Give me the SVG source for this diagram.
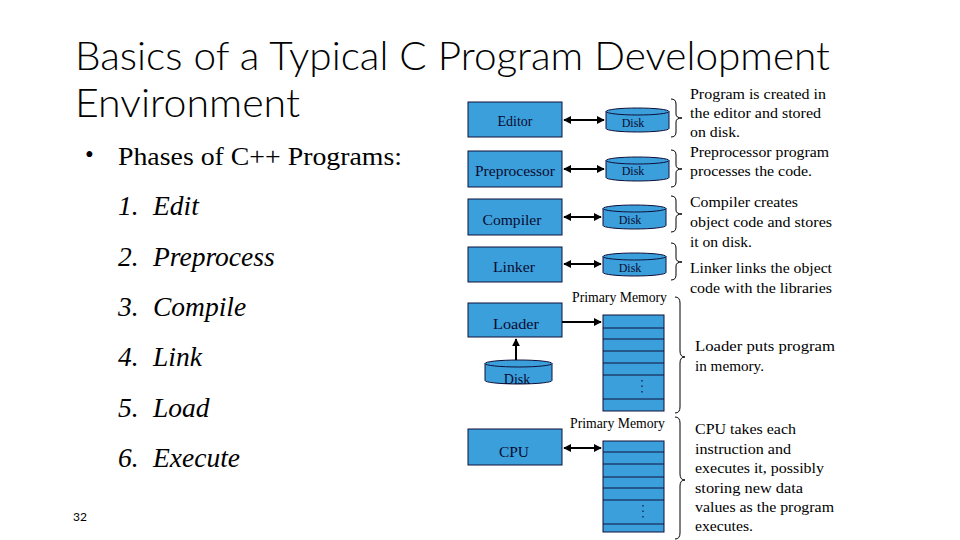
<svg xmlns="http://www.w3.org/2000/svg" width="960" height="540" viewBox="0 0 960 540">
<defs>
<style>
.title{font-family:Lato,"Open Sans","Liberation Sans",sans-serif;font-size:40px;font-weight:300;fill:#000;}
.bul{font-family:"Liberation Serif",serif;font-size:25px;fill:#000;}
.item{font-family:"Liberation Serif",serif;font-size:27.5px;font-style:italic;fill:#000;}
.box{fill:#3A9FDB;stroke:#10103a;stroke-width:1;}
.lbl{font-family:"Liberation Serif",serif;font-size:14px;fill:#0a0a30;text-anchor:middle;}
.dlbl{font-family:"Liberation Serif",serif;font-size:12px;fill:#0a0a30;text-anchor:middle;}
.note{font-family:"Liberation Serif",serif;font-size:14px;fill:#000;}
.pm{font-family:"Liberation Serif",serif;font-size:14px;fill:#000;}
.arr{stroke:#000;stroke-width:2;fill:none;}
.brace{stroke:#000;stroke-width:1;fill:none;}
.mline{stroke:#10103a;stroke-width:1;}
.dots{stroke:#10103a;stroke-width:1.2;stroke-dasharray:1.5 4;}
</style>
<marker id="ah" viewBox="0 0 10 10" refX="9" refY="5" markerWidth="4" markerHeight="4" orient="auto-start-reverse" markerUnits="strokeWidth">
<path d="M0,0 L10,5 L0,10 z" fill="#000"/>
</marker>
</defs>
<rect width="960" height="540" fill="#fff"/>

<g id="title">
<text class="title" x="75" y="70" textLength="755" lengthAdjust="spacingAndGlyphs">Basics of a Typical C Program Development</text>
<text class="title" x="75" y="117" textLength="225" lengthAdjust="spacingAndGlyphs">Environment</text>
</g>

<g id="phases">
<text class="bul" x="85" y="163" font-size="18">•</text>
<text class="bul" x="118" y="165" textLength="284" lengthAdjust="spacingAndGlyphs">Phases of C++ Programs:</text>
<text class="item" x="118" y="215">1.</text><text class="item" x="153" y="215">Edit</text>
<text class="item" x="118" y="266">2.</text><text class="item" x="153" y="266">Preprocess</text>
<text class="item" x="118" y="316">3.</text><text class="item" x="153" y="316">Compile</text>
<text class="item" x="118" y="366">4.</text><text class="item" x="153" y="366">Link</text>
<text class="item" x="118" y="417">5.</text><text class="item" x="153" y="417">Load</text>
<text class="item" x="118" y="467">6.</text><text class="item" x="153" y="467">Execute</text>
</g>

<g id="pagenum"><text x="73" y="521" font-family="Lato,'Liberation Sans',sans-serif" font-size="12" fill="#000">32</text></g>

<g id="editor"><rect class="box" x="468" y="102" width="94" height="35"/><text class="lbl" x="515" y="126">Editor</text></g>
<g id="preprocessor"><rect class="box" x="468" y="151" width="94" height="36"/><text class="lbl" x="515" y="176" textLength="80" lengthAdjust="spacingAndGlyphs">Preprocessor</text></g>
<g id="compiler"><rect class="box" x="468" y="199" width="94" height="36"/><text class="lbl" x="512" y="225" textLength="59" lengthAdjust="spacingAndGlyphs">Compiler</text></g>
<g id="linker"><rect class="box" x="468" y="247" width="94" height="35"/><text class="lbl" x="514" y="272" textLength="42" lengthAdjust="spacingAndGlyphs">Linker</text></g>
<g id="loader"><rect class="box" x="468" y="303" width="94" height="34"/><text class="lbl" x="516" y="329" textLength="46" lengthAdjust="spacingAndGlyphs">Loader</text></g>
<g id="cpu"><rect class="box" x="468" y="429" width="94" height="36"/><text class="lbl" x="514" y="457" textLength="30" lengthAdjust="spacingAndGlyphs">CPU</text></g>

<g id="disk1"><path class="box" d="M606,111.5 V128.5 A31.5,3.5 0 0 0 669,128.5 V111.5"/><ellipse class="box" cx="637.5" cy="111.5" rx="31.5" ry="3.5"/><text class="dlbl" x="633" y="127">Disk</text></g>
<g id="disk2"><path class="box" d="M606,160.5 V177.5 A31.5,3.5 0 0 0 669,177.5 V160.5"/><ellipse class="box" cx="637.5" cy="160.5" rx="31.5" ry="3.5"/><text class="dlbl" x="633" y="175">Disk</text></g>
<g id="disk3"><path class="box" d="M603,208.5 V225.5 A31.5,3.5 0 0 0 666,225.5 V208.5"/><ellipse class="box" cx="634.5" cy="208.5" rx="31.5" ry="3.5"/><text class="dlbl" x="630" y="224">Disk</text></g>
<g id="disk4"><path class="box" d="M603,256.5 V272.5 A31.5,3.5 0 0 0 666,272.5 V256.5"/><ellipse class="box" cx="634.5" cy="256.5" rx="31.5" ry="3.5"/><text class="dlbl" x="630" y="272">Disk</text></g>
<g id="disk5"><path class="box" d="M485,363.5 V380.5 A33.5,3.5 0 0 0 552,380.5 V363.5"/><ellipse class="box" cx="518.5" cy="363.5" rx="33.5" ry="3.5"/><text class="lbl" x="517" y="384" font-size="15">Disk</text></g>

<g id="memory1">
<rect class="box" x="603" y="315" width="61" height="96"/>
<line class="mline" x1="603" y1="328" x2="664" y2="328"/>
<line class="mline" x1="603" y1="339" x2="664" y2="339"/>
<line class="mline" x1="603" y1="351" x2="664" y2="351"/>
<line class="mline" x1="603" y1="363" x2="664" y2="363"/>
<line class="mline" x1="603" y1="375" x2="664" y2="375"/>
<line class="mline" x1="603" y1="399" x2="664" y2="399"/>
<line class="dots" x1="642" y1="380" x2="642" y2="396"/>
<text class="pm" x="572" y="302" textLength="95" lengthAdjust="spacingAndGlyphs">Primary Memory</text>
</g>
<g id="memory2">
<rect class="box" x="603" y="441" width="61" height="91"/>
<line class="mline" x1="603" y1="452" x2="664" y2="452"/>
<line class="mline" x1="603" y1="464" x2="664" y2="464"/>
<line class="mline" x1="603" y1="477" x2="664" y2="477"/>
<line class="mline" x1="603" y1="488" x2="664" y2="488"/>
<line class="mline" x1="603" y1="500" x2="664" y2="500"/>
<line class="mline" x1="603" y1="524" x2="664" y2="524"/>
<line class="dots" x1="643" y1="505" x2="643" y2="521"/>
<text class="pm" x="570" y="428" textLength="95" lengthAdjust="spacingAndGlyphs">Primary Memory</text>
</g>

<g id="connectors">
<line class="arr" x1="564" y1="120" x2="604" y2="120" marker-start="url(#ah)" marker-end="url(#ah)"/>
<line class="arr" x1="564" y1="169" x2="604" y2="169" marker-start="url(#ah)" marker-end="url(#ah)"/>
<line class="arr" x1="564" y1="217" x2="601" y2="217" marker-start="url(#ah)" marker-end="url(#ah)"/>
<line class="arr" x1="564" y1="264" x2="601" y2="264" marker-start="url(#ah)" marker-end="url(#ah)"/>
<line class="arr" x1="562" y1="322" x2="601" y2="322" marker-end="url(#ah)"/>
<line class="arr" x1="516" y1="360" x2="516" y2="339" marker-end="url(#ah)"/>
<line class="arr" x1="564" y1="448" x2="601" y2="448" marker-start="url(#ah)" marker-end="url(#ah)"/>
</g>

<g id="braces">
<path class="brace" d="M671,99 Q676,99 676,104 V114 Q676,118 682,118 Q676,118 676,122 V132 Q676,137 671,137"/>
<path class="brace" d="M671,150 Q676,150 676,155 V165 Q676,169 682,169 Q676,169 676,173 V182 Q676,187 671,187"/>
<path class="brace" d="M671,196 Q676,196 676,201 V210 Q676,214 682,214 Q676,214 676,218 V227 Q676,232 671,232"/>
<path class="brace" d="M671,243 Q676,243 676,248 V258 Q676,262 682,262 Q676,262 676,266 V275 Q676,280 671,280"/>
<path class="brace" d="M675,297 Q680,297 680,303 V351 Q680,357 685,357 Q680,357 680,363 V407 Q680,413 675,413"/>
<path class="brace" d="M675,417 Q680,417 680,423 V474 Q680,480 685,480 Q680,480 680,486 V533 Q680,539 675,539"/>
</g>

<g id="notes">
<text class="note" x="690" y="99" textLength="136" lengthAdjust="spacingAndGlyphs">Program is created in</text>
<text class="note" x="690" y="118" textLength="131" lengthAdjust="spacingAndGlyphs">the editor and stored</text>
<text class="note" x="690" y="137" textLength="50" lengthAdjust="spacingAndGlyphs">on disk.</text>
<text class="note" x="690" y="157" textLength="139" lengthAdjust="spacingAndGlyphs">Preprocessor program</text>
<text class="note" x="690" y="176" textLength="122" lengthAdjust="spacingAndGlyphs">processes the code.</text>
<text class="note" x="690" y="207" textLength="108" lengthAdjust="spacingAndGlyphs">Compiler creates</text>
<text class="note" x="690" y="227" textLength="142" lengthAdjust="spacingAndGlyphs">object code and stores</text>
<text class="note" x="690" y="247" textLength="62" lengthAdjust="spacingAndGlyphs">it on disk.</text>
<text class="note" x="690" y="273" textLength="142" lengthAdjust="spacingAndGlyphs">Linker links the object</text>
<text class="note" x="690" y="293" textLength="142" lengthAdjust="spacingAndGlyphs">code with the libraries</text>
<text class="note" x="695" y="351" textLength="140" lengthAdjust="spacingAndGlyphs">Loader puts program</text>
<text class="note" x="695" y="371" textLength="69" lengthAdjust="spacingAndGlyphs">in memory.</text>
<text class="note" x="695" y="434" textLength="101" lengthAdjust="spacingAndGlyphs">CPU takes each</text>
<text class="note" x="695" y="454" textLength="96" lengthAdjust="spacingAndGlyphs">instruction and</text>
<text class="note" x="695" y="473" textLength="129" lengthAdjust="spacingAndGlyphs">executes it, possibly</text>
<text class="note" x="695" y="493" textLength="108" lengthAdjust="spacingAndGlyphs">storing new data</text>
<text class="note" x="695" y="512" textLength="139" lengthAdjust="spacingAndGlyphs">values as the program</text>
<text class="note" x="695" y="531" textLength="58" lengthAdjust="spacingAndGlyphs">executes.</text>
</g>
</svg>
